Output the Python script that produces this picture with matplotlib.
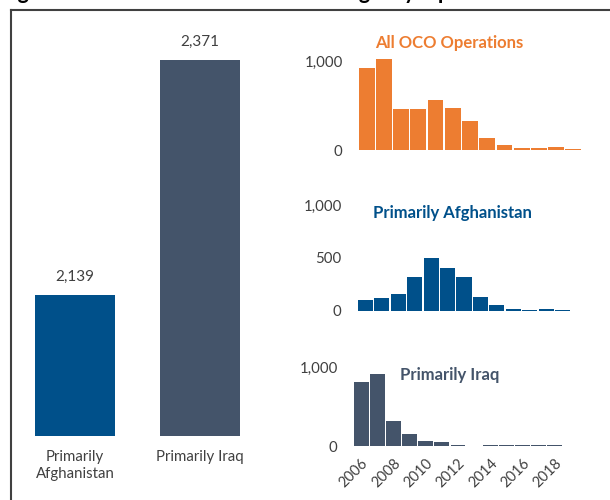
import numpy as np
import matplotlib
matplotlib.use("Agg")
import matplotlib.pyplot as plt
from matplotlib.lines import Line2D

plt.rcParams["font.family"] = ["Lato", "DejaVu Sans"]

# ─── Datos ──────────────────────────────────────────────────────────────────
categories = ["Primarily\nAfghanistan", "Primarily Iraq"]
totals = [2139, 2371]

years = np.arange(2006, 2019)
oco_all = [921, 1022, 461, 461, 562, 472, 326, 135, 56, 22, 22, 34, 11]
afghan = [104, 123, 160, 321, 500, 406, 321, 132, 57, 19, 7, 19, 7]
iraq = [810, 911, 316, 152, 63, 51, 12, 0, 8, 8, 8, 8, 8]

year_ticks = [2006, 2008, 2010, 2012, 2014, 2016, 2018]

ORANGE = "#ED7D31"
BLUE = "#00508A"
SLATE = "#44546A"
TXT = "#404040"

W, H = 610, 500


def px_box(left, top, right, bottom):
    # caja en píxeles (desde arriba) -> fracción de figura
    return [left / W, 1 - bottom / H, (right - left) / W, (bottom - top) / H]


fig = plt.figure(figsize=(W / 100, H / 100), dpi=100, facecolor="white")

# ─── Título (cortado por arriba, como en el original) y marco ─────────────
fig.text(0.0, 1.0 + 1 / H,
         "Figure 4. Contractor Deaths in Contingency Operations Total and Each Year",
         fontsize=15.5, fontweight="bold", color="black",
         ha="left", va="baseline")
fig.add_artist(Line2D([11 / W, 1], [1 - 10 / H, 1 - 10 / H],
                      color="#404040", lw=1.5))
fig.add_artist(Line2D([11 / W, 11 / W], [0, 1 - 10 / H],
                      color="#404040", lw=1.5))

# ─── Barras totales ────────────────────────────────────────────────────────
ax = fig.add_axes(px_box(12.5, 20, 262.5, 436))
x = np.arange(len(categories))
ax.bar(x, [t - 2000 for t in totals], bottom=2000, width=0.64,
       color=[BLUE, SLATE])
ax.set_xlim(-0.5, 1.5)
ax.set_ylim(2000, 2410.5)
for xi, t in zip(x, totals):
    ax.annotate(f"{t:,}", xy=(xi, t), xytext=(0, 8),
                textcoords="offset points", ha="center", va="bottom",
                fontsize=11, color=TXT)
ax.set_xticks(x)
ax.set_xticklabels(categories, fontsize=10.8, color=TXT, linespacing=1.3)
ax.tick_params(axis="x", length=0, pad=10)
ax.set_yticks([])
for s in ax.spines.values():
    s.set_visible(False)


# ─── Pequeños histogramas por año ──────────────────────────────────────────
def small_panel(box, values, color, ymax, yticks, title, title_xy,
                show_years=False):
    a = fig.add_axes(px_box(*box))
    a.bar(years, values, width=0.92, color=color)
    a.set_xlim(2005.5, 2018.5)
    a.set_ylim(0, ymax)
    a.set_yticks(yticks)
    a.set_yticklabels([f"{v:,}" for v in yticks], fontsize=10.8, color=TXT)
    a.tick_params(axis="y", length=0, pad=11)
    if show_years:
        a.set_xticks(year_ticks)
        a.set_xticklabels([str(y) for y in year_ticks], rotation=45,
                          ha="right", rotation_mode="anchor",
                          fontsize=10.5, color=TXT)
        a.tick_params(axis="x", length=0, pad=7)
    else:
        a.set_xticks([])
    for s in a.spines.values():
        s.set_visible(False)
    a.patch.set_alpha(0)
    fig.text(title_xy[0] / W, 1 - title_xy[1] / H, title,
             fontsize=12, fontweight="bold", color=color,
             ha="center", va="center")
    return a


small_panel((358, 50, 582, 150), oco_all, ORANGE, 1124, [0, 1000],
            "All OCO Operations", (449, 43))
small_panel((357, 200, 571, 311), afghan, BLUE, 1047, [0, 500, 1000],
            "Primarily Afghanistan", (452, 213))
small_panel((353, 360, 563, 446), iraq, SLATE, 1089, [0, 1000],
            "Primarily Iraq", (450, 375), show_years=True)

plt.savefig("out.png", dpi=100, facecolor="white")
